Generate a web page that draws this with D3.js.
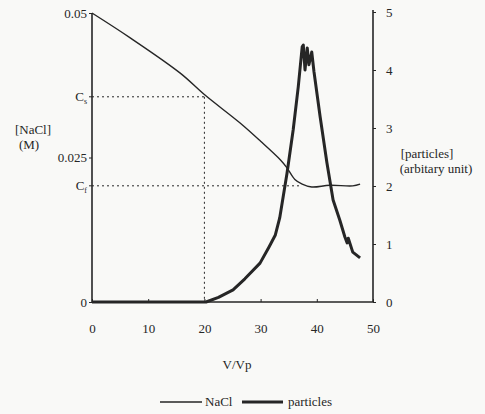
<!DOCTYPE html>
<html><head><meta charset="utf-8">
<script src="https://cdn.jsdelivr.net/npm/d3@7"></script>
<style>
body{margin:0;background:#f9f9f7;}
svg{display:block;}
svg text{font-family:"Liberation Serif","Times New Roman",serif !important;}
</style></head>
<body><svg id="c" width="485" height="414"></svg>
<script>
const xTicks=[0,10,20,30,40,50];
const leftTickVals=[0,0.025,0.05];
const leftTickLabels=["0","0.025","0.05"];
const rightTicks=[0,1,2,3,4,5];
const Cs=0.0355, Cf=0.0201, Vs=20;
const nacl=[[0,0.05],[6.8,0.0457],[15.7,0.0396],[20.1,0.0358],[26.3,0.031],[30,0.0278],[33.5,0.0246],[34.7,0.0232],[36.1,0.0212],[37.4,0.0204],[39.1,0.0199],[42.3,0.0202],[46.4,0.0201],[47.7,0.0204]];
const particles=[[0,0],[10,0],[20.3,0],[22.5,0.08],[25.1,0.21],[27.2,0.40],[29.9,0.67],[31.5,0.95],[32.6,1.15],[33.4,1.45],[34.7,2.22],[35.8,2.97],[36.7,3.71],[37.4,4.40],[37.6,4.43],[37.9,4.0],[38.3,4.38],[38.6,4.09],[39.1,4.31],[39.5,3.97],[40.6,3.19],[41.8,2.40],[42.9,1.76],[44.1,1.41],[45.0,1.12],[45.4,1.02],[45.6,1.1],[46.4,0.86],[47.7,0.76]];

const svg=d3.select("#c");
const x=d3.scaleLinear().domain([0,50]).range([92,373]);
const yL=d3.scaleLinear().domain([0,0.05]).range([302,13]);
const yR=d3.scaleLinear().domain([0,5]).range([302,12]);
const ink="#262626";
const FS="13px";

// dotted guides
svg.append("line").attr("x1",x(0)).attr("x2",x(Vs)).attr("y1",yL(Cs)).attr("y2",yL(Cs))
 .attr("stroke",ink).attr("stroke-width",1).attr("stroke-dasharray","2,3");
svg.append("line").attr("x1",x(Vs)).attr("x2",x(Vs)).attr("y1",yL(Cs)).attr("y2",yL(0))
 .attr("stroke",ink).attr("stroke-width",1).attr("stroke-dasharray","2,3");
svg.append("line").attr("x1",x(0)).attr("x2",x(37)).attr("y1",yL(Cf)).attr("y2",yL(Cf))
 .attr("stroke",ink).attr("stroke-width",1).attr("stroke-dasharray","2,3");

// axes
const gx=svg.append("g").attr("transform","translate(0,302)")
 .call(d3.axisBottom(x).tickValues(xTicks).tickSize(-3).tickPadding(22));
const gl=svg.append("g").attr("transform","translate(92,0)")
 .call(d3.axisLeft(yL).tickValues(leftTickVals).tickFormat((d,i)=>leftTickLabels[i]).tickSize(3).tickPadding(2));
const gr=svg.append("g").attr("transform","translate(373,0)")
 .call(d3.axisRight(yR).tickValues(rightTicks).tickFormat(d3.format("d")).tickSize(3).tickPadding(10));
[gx,gl,gr].forEach(g=>{
  g.attr("font-family",null).attr("font-size",null);
  g.select(".domain").attr("stroke",ink).attr("stroke-width",1.6);
  g.selectAll(".tick line").attr("stroke",ink);
  g.selectAll("text").attr("fill",ink).style("font-size",FS);
});
gr.select(".domain").attr("d","M0,302V10");
gl.select(".domain").attr("d","M0,302V13");
gx.select(".domain").attr("d","M92,0H373");

// Cs Cf labels
[[Cs,"s"],[Cf,"f"]].forEach(([v,s])=>{
  const t=svg.append("text").attr("x",87).attr("y",yL(v)+4).attr("text-anchor","end")
   .attr("fill",ink).style("font-size",FS);
  t.append("tspan").text("C");
  t.append("tspan").style("font-size","8px").attr("dy",3).text(s);
  svg.append("line").attr("x1",89).attr("x2",92).attr("y1",yL(v)).attr("y2",yL(v)).attr("stroke",ink);
});

// lines
svg.append("path").datum(nacl).attr("d",d3.line().x(d=>x(d[0])).y(d=>yL(d[1])).curve(d3.curveCatmullRom)).attr("fill","none")
 .attr("stroke",ink).attr("stroke-width",1.4);
svg.append("path").datum(particles).attr("d",d3.line().x(d=>x(d[0])).y(d=>yR(d[1]))).attr("fill","none")
 .attr("stroke",ink).attr("stroke-width",3).attr("stroke-linejoin","round");

// axis titles
svg.append("text").attr("x",33).attr("y",134).attr("text-anchor","middle").attr("fill",ink).style("font-size",FS).text("[NaCl]");
svg.append("text").attr("x",29).attr("y",149).attr("text-anchor","middle").attr("fill",ink).style("font-size",FS).text("(M)");
svg.append("text").attr("x",427).attr("y",158).attr("text-anchor","middle").attr("fill",ink).style("font-size",FS).text("[particles]");
svg.append("text").attr("x",436).attr("y",173).attr("text-anchor","middle").attr("fill",ink).style("font-size",FS).text("(arbitary unit)");
svg.append("text").attr("x",237).attr("y",369).attr("text-anchor","middle").attr("fill",ink)
 .style("font-size",FS).text("V/Vp");

// legend
svg.append("line").attr("x1",160).attr("x2",202).attr("y1",402).attr("y2",402).attr("stroke",ink).attr("stroke-width",1.4);
svg.append("text").attr("x",205).attr("y",406).attr("fill",ink).style("font-size",FS).text("NaCl");
svg.append("line").attr("x1",242).attr("x2",283).attr("y1",402).attr("y2",402).attr("stroke",ink).attr("stroke-width",3);
svg.append("text").attr("x",288).attr("y",406).attr("fill",ink).style("font-size",FS).text("particles");
</script></body></html>
